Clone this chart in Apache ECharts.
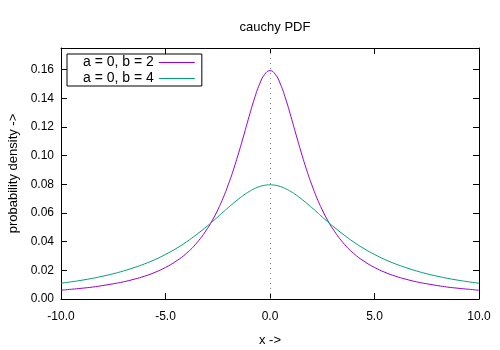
<!DOCTYPE html>
<html>
<head>
<meta charset="utf-8">
<script src="https://cdn.jsdelivr.net/npm/echarts@6/dist/echarts.min.js"></script>
<style>
  html, body { margin: 0; padding: 0; background: #fff; }
  #main { width: 500px; height: 350px; }
</style>
</head>
<body>
<div id="main"></div>
<script>
// x samples (denser near the peak)
var xs = [-10, -9.5, -9, -8.5, -8, -7.5, -7, -6.5, -6, -5.5, -5, -4.5, -4, -3.5,
  -3, -2.75, -2.5, -2.25, -2, -1.75, -1.5, -1.25, -1, -0.75, -0.5, -0.25, 0,
  0.25, 0.5, 0.75, 1, 1.25, 1.5, 1.75, 2, 2.25, 2.5, 2.75, 3,
  3.5, 4, 4.5, 5, 5.5, 6, 6.5, 7, 7.5, 8, 8.5, 9, 9.5, 10];

// a = 0, b = 2
var pdfB2 = [0.0061, 0.0068, 0.0075, 0.0083, 0.0094, 0.0106, 0.0120, 0.0138, 0.0159, 0.0186, 0.0220, 0.0263, 0.0318, 0.0392,
  0.0490, 0.0551, 0.0621, 0.0702, 0.0796, 0.0901, 0.1019, 0.1144, 0.1273, 0.1395, 0.1498, 0.1567, 0.1592,
  0.1567, 0.1498, 0.1395, 0.1273, 0.1144, 0.1019, 0.0901, 0.0796, 0.0702, 0.0621, 0.0551, 0.0490,
  0.0392, 0.0318, 0.0263, 0.0220, 0.0186, 0.0159, 0.0138, 0.0120, 0.0106, 0.0094, 0.0083, 0.0075, 0.0068, 0.0061];

// a = 0, b = 4
var pdfB4 = [0.0110, 0.0120, 0.0131, 0.0144, 0.0159, 0.0176, 0.0196, 0.0219, 0.0245, 0.0275, 0.0311, 0.0351, 0.0398, 0.0451,
  0.0509, 0.0540, 0.0572, 0.0605, 0.0637, 0.0668, 0.0698, 0.0725, 0.0749, 0.0769, 0.0784, 0.0793, 0.0796,
  0.0793, 0.0784, 0.0769, 0.0749, 0.0725, 0.0698, 0.0668, 0.0637, 0.0605, 0.0572, 0.0540, 0.0509,
  0.0451, 0.0398, 0.0351, 0.0311, 0.0275, 0.0245, 0.0219, 0.0196, 0.0176, 0.0159, 0.0144, 0.0131, 0.0120, 0.0110];

var seriesNames = ['a = 0, b = 2', 'a = 0, b = 4'];
var seriesColors = ['#9400d3', '#009e73'];

function pairs(ys) {
  return xs.map(function (x, i) { return [x, ys[i]]; });
}

var font = 'Liberation Sans, Arial, sans-serif';
var frameLine = { show: true, onZero: false, lineStyle: { color: '#000', width: 1 } };
var tick = { show: true, inside: true, length: 6, lineStyle: { color: '#000' } };

var chart = echarts.init(document.getElementById('main'));
chart.setOption({
  animation: false,
  backgroundColor: '#fff',
  textStyle: { fontFamily: font },
  title: {
    text: 'cauchy PDF',
    left: 270,
    top: 16,
    textAlign: 'center',
    textStyle: { fontSize: 13, fontWeight: 'normal', color: '#000', fontFamily: font }
  },
  legend: {
    orient: 'vertical',
    left: 67,
    top: 54,
    align: 'right',
    icon: 'rect',
    itemWidth: 36,
    itemHeight: 1,
    itemGap: 1,
    padding: [1, 7, 0, 16],
    borderColor: '#000',
    borderWidth: 1,
    itemStyle: { borderWidth: 0 },
    textStyle: { fontSize: 14, color: '#000', fontFamily: font, lineHeight: 15 },
    data: seriesNames.map(function (n, i) {
      return { name: n, itemStyle: { color: seriesColors[i], borderWidth: 0 } };
    })
  },
  grid: { left: 61, right: 21, top: 48, bottom: 51, outerBoundsMode: 'none' },
  xAxis: [{
    type: 'value',
    min: -10, max: 10, interval: 5,
    name: 'x ->',
    nameLocation: 'middle',
    nameGap: 35,
    nameTextStyle: { fontSize: 13, color: '#000' },
    axisLine: frameLine,
    axisTick: tick,
    splitLine: { show: false },
    axisLabel: { fontSize: 12, color: '#000', margin: 12, formatter: function (v) { return v.toFixed(1); } }
  }, {
    type: 'value',
    position: 'top',
    min: -10, max: 10, interval: 5,
    axisLine: frameLine,
    axisTick: tick,
    splitLine: { show: false },
    axisLabel: { show: false }
  }],
  yAxis: [{
    type: 'value',
    min: 0, max: 0.175, interval: 0.02,
    name: 'probability density ->',
    nameLocation: 'middle',
    nameGap: 39,
    nameTextStyle: { fontSize: 13, color: '#000' },
    axisLine: frameLine,
    axisTick: tick,
    splitLine: { show: false },
    axisLabel: { fontSize: 12, color: '#000', margin: 7, showMaxLabel: false,
      formatter: function (v) { return v.toFixed(2); } }
  }, {
    type: 'value',
    position: 'right',
    min: 0, max: 0.175, interval: 0.02,
    axisLine: frameLine,
    axisTick: tick,
    splitLine: { show: false },
    axisLabel: { show: false }
  }],
  series: [{
    name: seriesNames[0],
    type: 'line',
    data: pairs(pdfB2),
    smooth: true,
    symbol: 'none',
    color: seriesColors[0],
    lineStyle: { width: 1, color: seriesColors[0] },
    markLine: {
      silent: true,
      symbol: 'none',
      label: { show: false },
      lineStyle: { color: '#888', type: [1, 4], width: 1 },
      data: [{ xAxis: 0 }]
    }
  }, {
    name: seriesNames[1],
    type: 'line',
    data: pairs(pdfB4),
    smooth: true,
    symbol: 'none',
    color: seriesColors[1],
    lineStyle: { width: 1, color: seriesColors[1] }
  }]
});
</script>
</body>
</html>
